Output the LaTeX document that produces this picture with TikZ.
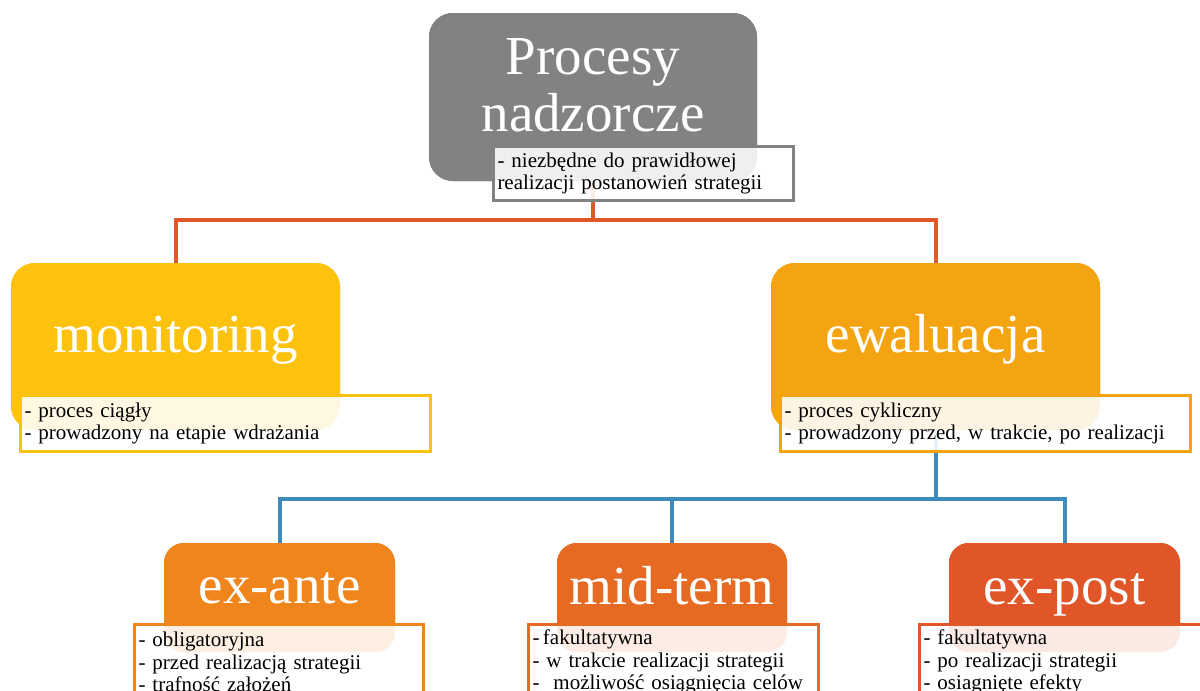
\documentclass[tikz,border=0pt]{standalone}
\usepackage{fontspec}
\setmainfont{Liberation Serif}
\definecolor{cgray}{RGB}{130,130,130}
\definecolor{cmon}{RGB}{253,194,14}
\definecolor{cewa}{RGB}{245,164,17}
\definecolor{cante}{RGB}{239,133,27}
\definecolor{cmid}{RGB}{231,106,35}
\definecolor{cpost}{RGB}{225,86,41}
\definecolor{corline}{RGB}{224,88,42}
\definecolor{cblline}{RGB}{62,140,188}
\begin{document}
\begin{tikzpicture}[x=1pt,y=-1pt,
  mainbox/.style={fill=#1, rounded corners=24pt, inner sep=0pt},
  smallbox/.style={fill=#1, rounded corners=20pt, inner sep=0pt},
  subbox/.style={draw=#1, line width=3pt, fill=white, fill opacity=0.88, text opacity=1,
    inner xsep=4pt, inner ysep=0pt, align=left, text=black,
    font=\fontsize{21}{22.5}\selectfont},
  title/.style={text=white, font=\fontsize{55}{57}\selectfont, inner sep=0pt, anchor=base},
  orline/.style={draw=corline, line width=4pt},
  blline/.style={draw=cblline, line width=4pt}]
\clip (0,0) rectangle (1200,691);
\fill[white] (0,0) rectangle (1200,691);

% coordinates of junctions
\coordinate (j1) at (593,220);
\coordinate (j2) at (935.5,499);

% main boxes
\node[mainbox=cgray, minimum width=328pt, minimum height=168pt] (top) at (593,97) {};
\node[mainbox=cmon, minimum width=329pt, minimum height=167pt] (mon) at (175.5,346.5) {};
\node[mainbox=cewa, minimum width=329pt, minimum height=167pt] (ewa) at (935.5,346.5) {};
\node[smallbox=cante, minimum width=231pt, minimum height=109pt] (ante) at (279.5,597.5) {};
\node[smallbox=cmid, minimum width=230pt, minimum height=109pt] (mid) at (672,597.5) {};
\node[smallbox=cpost, minimum width=231pt, minimum height=109pt] (post) at (1064.5,597.5) {};

% connectors
\begin{scope}[on background layer/.style={}]
\end{scope}
\draw[orline] (top.south) -- (j1) -| (mon.north);
\draw[orline] (j1) -| (ewa.north);
\draw[blline] (ewa.south) -- (j2) -| (ante.north);
\draw[blline] (j2) -| (mid.north);
\draw[blline] (j2) -| (post.north);

% redraw boxes over connectors
\node[mainbox=cgray, minimum width=328pt, minimum height=168pt] at (top) {};
\node[mainbox=cmon, minimum width=329pt, minimum height=167pt] at (mon) {};
\node[mainbox=cewa, minimum width=329pt, minimum height=167pt] at (ewa) {};
\node[smallbox=cante, minimum width=231pt, minimum height=109pt] at (ante) {};
\node[smallbox=cmid, minimum width=230pt, minimum height=109pt] at (mid) {};
\node[smallbox=cpost, minimum width=231pt, minimum height=109pt] at (post) {};

% titles
\node[title] (toptxta) at (593,74) {Procesy};
\node[title] (toptxtb) at (593,131) {nadzorcze};
\node[title] (montxt) at (175.5,352) {monitoring};
\node[title] (ewatxt) at (935.5,352) {ewaluacja};
\node[title] (antetxt) at (279.5,603) {ex-ante};
\node[title] (midtxt) at (672,604) {mid-term};
\node[title] (posttxt) at (1064.5,604) {ex-post};

% description boxes
\node[subbox=cgray, text width=292pt, minimum height=54pt] (topsub) at (643.5,173.5)
  {- niezbędne do prawidłowej\\realizacji postanowień strategii};
\node[subbox=cmon, text width=402pt, minimum height=56pt] (monsub) at (225.5,423.5)
  {- proces ciągły\\- prowadzony na etapie wdrażania};
\node[subbox=cewa, text width=402pt, minimum height=56pt] (ewasub) at (985.5,423.5)
  {- proces cykliczny\\- prowadzony przed, w trakcie, po realizacji};
\node[subbox=cante, text width=281pt, minimum height=75pt] (antesub) at (279,662)
  {- obligatoryjna\\- przed realizacją strategii\\- trafność założeń};
\node[subbox=cmid, text width=282pt, minimum height=75pt] (midsub) at (673.5,662)
  {-\,fakultatywna\\- w trakcie realizacji strategii\\-\ \ możliwość osiągnięcia celów};
\node[subbox=cpost, text width=282pt, minimum height=75pt] (postsub) at (1064.5,662)
  {- fakultatywna\\- po realizacji strategii\\- osiagnięte efekty};
\end{tikzpicture}
\end{document}
